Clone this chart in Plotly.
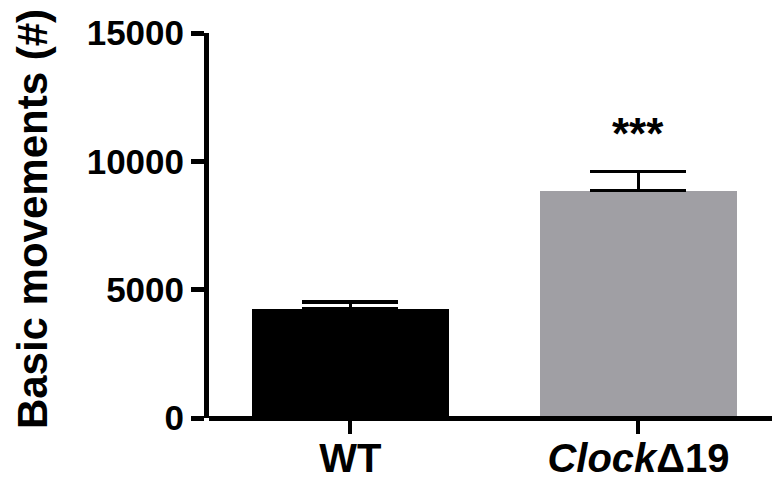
import plotly.graph_objects as go

# ---- data ----
categories = ["WT", "<i>Clock</i>Δ19"]
means = [4240, 8860]
sem_plus = [270, 740]
sem_minus = [0, 0]
bar_colors = ["#000000", "#a09fa4"]
y_tickvals = [0, 5000, 10000, 15000]
y_ticktext = ["0", "5000", "10000", "15000"]
y_title = "Basic movements (#)"
signif_text = "***"
signif_y = 11100

FONT = "Liberation Sans, Arial, Helvetica, sans-serif"

fig = go.Figure()
fig.add_trace(go.Bar(
    x=categories,
    y=means,
    marker=dict(color=bar_colors, line=dict(width=0)),
    width=0.684,
    error_y=dict(type="data", symmetric=False, array=sem_plus, arrayminus=sem_minus,
                 color="black", thickness=3.5, width=48),
    showlegend=False,
    hoverinfo="skip",
))

fig.add_annotation(x=categories[1], y=signif_y, xref="x", yref="y", text=signif_text,
                   showarrow=False, xanchor="center", yanchor="middle",
                   font=dict(family=FONT, size=44, color="black", weight="bold"))

fig.add_annotation(x=-0.313, y=0.516, xref="paper", yref="paper", text=y_title,
                   textangle=-90, showarrow=False, xanchor="center", yanchor="middle",
                   font=dict(family=FONT, size=42, color="black", weight="bold"))

fig.update_layout(
    width=772, height=479,
    margin=dict(l=209, r=0, t=33, b=61, pad=0, autoexpand=False),
    paper_bgcolor="white", plot_bgcolor="white",
    font=dict(family=FONT, color="black"),
    bargap=0,
)
fig.update_xaxes(
    type="category", range=[-0.491, 1.4635], automargin=False,
    showline=False, showgrid=False, zeroline=False,
    ticks="outside", ticklen=15, tickwidth=4, tickcolor="black",
    tickfont=dict(family=FONT, size=40, color="black", weight="bold"),
)
try:
    fig.update_xaxes(ticklabelstandoff=-10)
except Exception:
    pass
fig.update_yaxes(
    range=[0, 15000], tickvals=y_tickvals, ticktext=y_ticktext, automargin=False,
    showline=True, linewidth=5, linecolor="black", showgrid=False,
    zeroline=True, zerolinewidth=5, zerolinecolor="black",
    ticks="outside", ticklen=13, tickwidth=5, tickcolor="black",
    tickfont=dict(family=FONT, size=35, color="black", weight="bold"),
    layer="above traces",
)
try:
    fig.update_yaxes(zerolinelayer="above traces")
except Exception:
    pass

fig.write_html("out.html", config={"displayModeBar": False, "staticPlot": True},
               post_script="document.body.style.margin='0';document.body.style.overflow='hidden';")
